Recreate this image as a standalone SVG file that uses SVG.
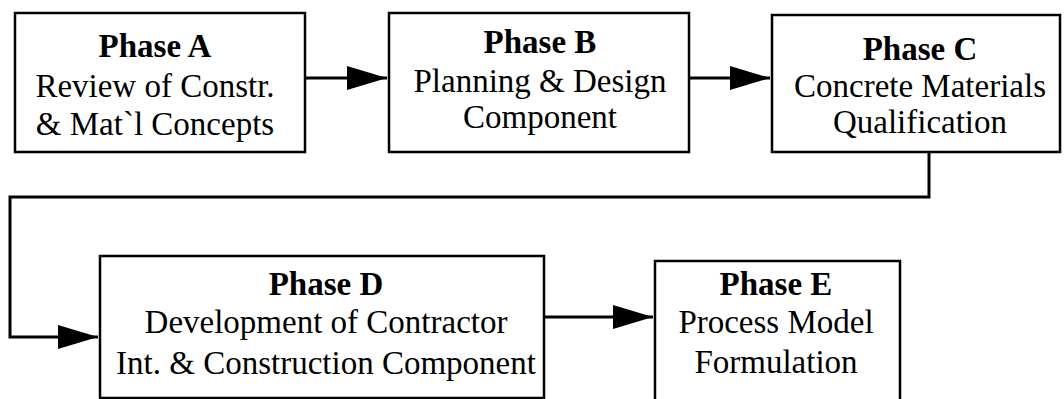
<svg xmlns="http://www.w3.org/2000/svg" width="1064" height="399" viewBox="0 0 1064 399">
<style>
.box{fill:#fff;stroke:#000;stroke-width:2.5}
.t{font-family:"Liberation Serif","Times New Roman",serif;font-size:33px;fill:#000;text-anchor:middle}
.b{font-weight:bold}
.c{fill:none;stroke:#000;stroke-width:3}
</style>
<defs>
<marker id="ah" markerUnits="userSpaceOnUse" markerWidth="42" markerHeight="24" refX="40" refY="12" orient="auto">
<path d="M0,0 L40,12 L0,24 Z" fill="#000"/>
</marker>
</defs>
<rect width="1064" height="399" fill="#fff"/>
<g id="connectors">
<line class="c" x1="305" y1="78" x2="387" y2="78" marker-end="url(#ah)"/>
<line class="c" x1="689" y1="78" x2="770" y2="78" marker-end="url(#ah)"/>
<polyline class="c" points="929,152 929,197 10,197 10,337 98,337" marker-end="url(#ah)"/>
<line class="c" x1="544" y1="317" x2="653" y2="317" marker-end="url(#ah)"/>
</g>
<g id="phaseA">
<rect class="box" x="15" y="13" width="290" height="139"/>
<text class="t b" x="155" y="57">Phase A</text>
<text class="t" x="155" y="97">Review of Constr.</text>
<text class="t" x="155" y="135">&amp; Mat`l Concepts</text>
</g>
<g id="phaseB">
<rect class="box" x="389" y="13" width="300" height="139"/>
<text class="t b" x="540" y="53">Phase B</text>
<text class="t" x="540" y="92">Planning &amp; Design</text>
<text class="t" x="540" y="128">Component</text>
</g>
<g id="phaseC">
<rect class="box" x="772" y="15" width="288" height="137"/>
<text class="t b" x="920" y="60">Phase C</text>
<text class="t" x="920" y="97">Concrete Materials</text>
<text class="t" x="920" y="133">Qualification</text>
</g>
<g id="phaseD">
<rect class="box" x="100" y="256" width="444" height="142"/>
<text class="t b" x="326" y="295">Phase D</text>
<text class="t" x="326" y="333">Development of Contractor</text>
<text class="t" x="326" y="374">Int. &amp; Construction Component</text>
</g>
<g id="phaseE">
<rect class="box" x="655" y="261" width="245" height="150"/>
<text class="t b" x="776" y="295">Phase E</text>
<text class="t" x="776" y="333">Process Model</text>
<text class="t" x="776" y="373">Formulation</text>
</g>
</svg>
